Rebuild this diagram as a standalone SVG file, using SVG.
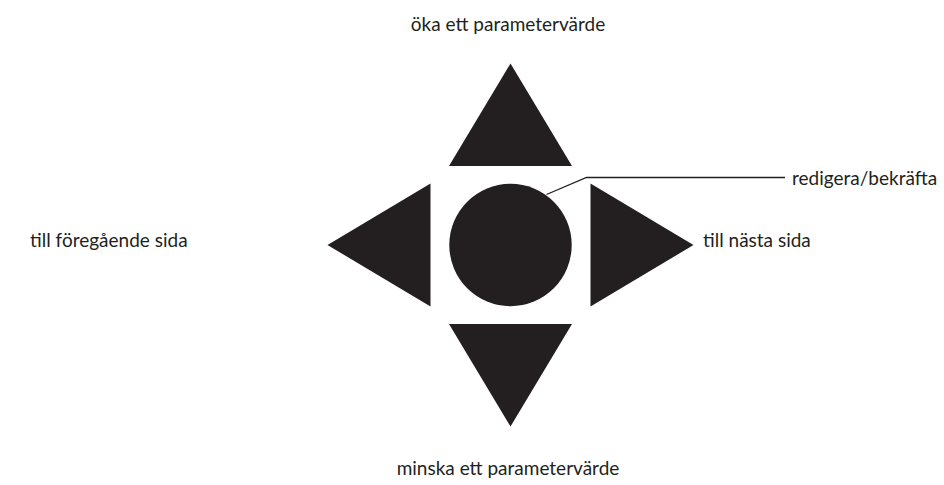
<svg xmlns="http://www.w3.org/2000/svg" width="944" height="485" viewBox="0 0 944 485">
<style>
.s{fill:#231f20}
.t{font-family:Lato,"Open Sans","Liberation Sans",sans-serif;font-size:19px;fill:#231f20}
.c{fill:none;stroke:#231f20;stroke-width:1.3}
</style>
<rect width="944" height="485" fill="#fff"/>
<g id="up"><polygon class="s" points="510.5,63.5 449,166 572,166"/></g>
<g id="left"><polygon class="s" points="327.5,245 430.5,183.5 430.5,306.5"/></g>
<g id="right"><polygon class="s" points="693.5,245 590.5,183.5 590.5,306.5"/></g>
<g id="down"><polygon class="s" points="510.5,426.5 449,324 572,324"/></g>
<g id="center"><circle class="s" cx="510.5" cy="245" r="61.2"/></g>
<g id="connectors"><polyline class="c" points="546.5,194.5 586.5,177.5 785,177.5"/></g>
<g id="labels">
<text class="t" x="508" y="31" text-anchor="middle">öka ett parametervärde</text>
<text class="t" x="508" y="475" text-anchor="middle">minska ett parametervärde</text>
<text class="t" x="30" y="247">till föregående sida</text>
<text class="t" x="703" y="247">till nästa sida</text>
<text class="t" x="792" y="185">redigera/bekräfta</text>
</g>
</svg>
